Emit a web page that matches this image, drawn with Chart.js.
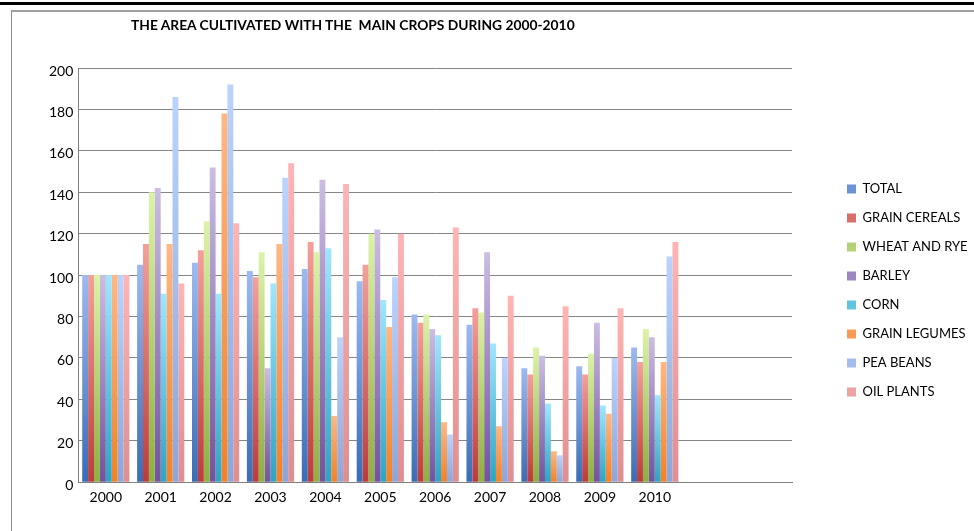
<!DOCTYPE html>
<html>
<head>
<meta charset="utf-8">
<script src="https://cdn.jsdelivr.net/npm/chart.js@4.4.0/dist/chart.umd.min.js"></script>
<style>
  html, body { margin: 0; padding: 0; background: #fff; }
  #wrap { position: relative; width: 974px; height: 531px; overflow: hidden; }
  #topRule { position: absolute; left: 0; top: 2px; width: 974px; height: 3px; background: #000; }
  #frame { position: absolute; left: 11px; top: 10px; width: 990px; height: 560px;
           border-left: 1px solid #8c8c8c; border-top: 2px solid #a0a0a0; }
  #title { position: absolute; left: 131px; top: 16px; font: bold 13.8px Lato, sans-serif; color: #000;
           white-space: pre; }
  #box { position: absolute; left: 0; top: 0; width: 974px; height: 531px; }
</style>
</head>
<body>
<div id="wrap">
  <div id="topRule"></div>
  <div id="frame"></div>
  <div id="box"><canvas id="myChart"></canvas></div>
  <div id="title">THE AREA CULTIVATED WITH THE  MAIN CROPS DURING 2000-2010</div>
</div>
<script>
  // categories (two trailing empty slots, as in the original axis)
  var years = ["2000", "2001", "2002", "2003", "2004", "2005", "2006", "2007", "2008", "2009", "2010", "", ""];
  var seriesNames = ["TOTAL", "GRAIN CEREALS", "WHEAT AND RYE", "BARLEY", "CORN", "GRAIN LEGUMES", "PEA BEANS", "OIL PLANTS"];

  var total        = [100, 105, 106, 102, 103, 97, 81, 76, 55, 56, 65];
  var grainCereals = [100, 115, 112, 99, 116, 105, 77, 84, 52, 52, 58];
  var wheatRye     = [100, 140, 126, 111, 111, 120, 81, 82, 65, 62, 74];
  var barley       = [100, 142, 152, 55, 146, 122, 74, 111, 61, 77, 70];
  var corn         = [100, 91, 91, 96, 113, 88, 71, 67, 38, 37, 42];
  var grainLegumes = [100, 115, 178, 115, 32, 75, 29, 27, 15, 33, 58];
  var peaBeans     = [100, 186, 192, 147, 70, 99, 23, 60, 13, 60, 109];
  var oilPlants    = [100, 96, 125, 154, 144, 120, 123, 90, 85, 84, 116];

  var yTicks = [0, 20, 40, 60, 80, 100, 120, 140, 160, 180, 200];

  var topColors    = ["#9dbaf0", "#f4a09b", "#dcf3a8", "#cbbde3", "#a0e6fd", "#fdb887", "#bbd3fd", "#ffb5b5"];
  var bottomColors = ["#3a6cb4", "#be3a3a", "#8dae42", "#73529e", "#2fa3c2", "#f38125", "#8da6d8", "#df8e8f"];
  var midColors    = ["#6b93d6", "#d96d6a", "#b5d175", "#9e87c0", "#62c4df", "#f89c55", "#a4bdea", "#eea2a2"];

  var allSeries = [total, grainCereals, wheatRye, barley, corn, grainLegumes, peaBeans, oilPlants];

  Chart.defaults.font.family = "Lato, 'Noto Sans', sans-serif";
  Chart.defaults.color = "#000";

  function barFill(i) {
    return function (c) {
      var chart = c.chart;
      var y = chart.scales && chart.scales.y;
      if (!y || c.type !== "data" || !c.parsed) return midColors[i];
      var top = y.getPixelForValue(c.parsed.y);
      var bottom = y.getPixelForValue(0);
      if (!isFinite(top) || !isFinite(bottom) || top === bottom) return midColors[i];
      var g = chart.ctx.createLinearGradient(0, top, 0, bottom);
      g.addColorStop(0, topColors[i]);
      g.addColorStop(1, bottomColors[i]);
      return g;
    };
  }

  var datasets = allSeries.map(function (vals, i) {
    return {
      label: seriesNames[i],
      data: vals,
      backgroundColor: barFill(i),
      borderWidth: 0,
      barPercentage: 1.0,
      categoryPercentage: 0.86
    };
  });

  new Chart("myChart", {
    type: "bar",
    data: { labels: years, datasets: datasets },
    options: {
      responsive: true,
      maintainAspectRatio: false,
      animation: false,
      layout: { padding: { top: 68, bottom: 18, left: 44, right: 0 } },
      scales: {
        x: {
          grid: { display: false, drawTicks: false },
          border: { color: "#808080" },
          ticks: { font: { size: 14 }, padding: 7, maxRotation: 0, autoSkip: false }
        },
        y: {
          min: 0,
          max: 200,
          afterBuildTicks: function (s) {
            s.ticks = yTicks.map(function (v) { return { value: v }; });
          },
          grid: { color: "#868686", drawTicks: false },
          border: { color: "#808080" },
          ticks: { font: { size: 14 }, padding: 5, labelOffset: 3 }
        },
        gap: {
          type: "linear",
          position: "right",
          grid: { display: false },
          border: { display: false },
          ticks: { display: false },
          afterFit: function (s) { s.width = 39; }
        }
      },
      plugins: {
        title: { display: false },
        tooltip: { enabled: false },
        legend: {
          position: "right",
          maxWidth: 143,
          labels: {
            boxWidth: 9,
            boxHeight: 9,
            padding: 16,
            font: { size: 13 },
            color: "#000",
            generateLabels: function (chart) {
              return seriesNames.map(function (name, i) {
                return {
                  text: name,
                  fillStyle: midColors[i],
                  strokeStyle: midColors[i],
                  lineWidth: 0,
                  hidden: false,
                  datasetIndex: i
                };
              });
            }
          }
        }
      }
    }
  });
</script>
</body>
</html>
